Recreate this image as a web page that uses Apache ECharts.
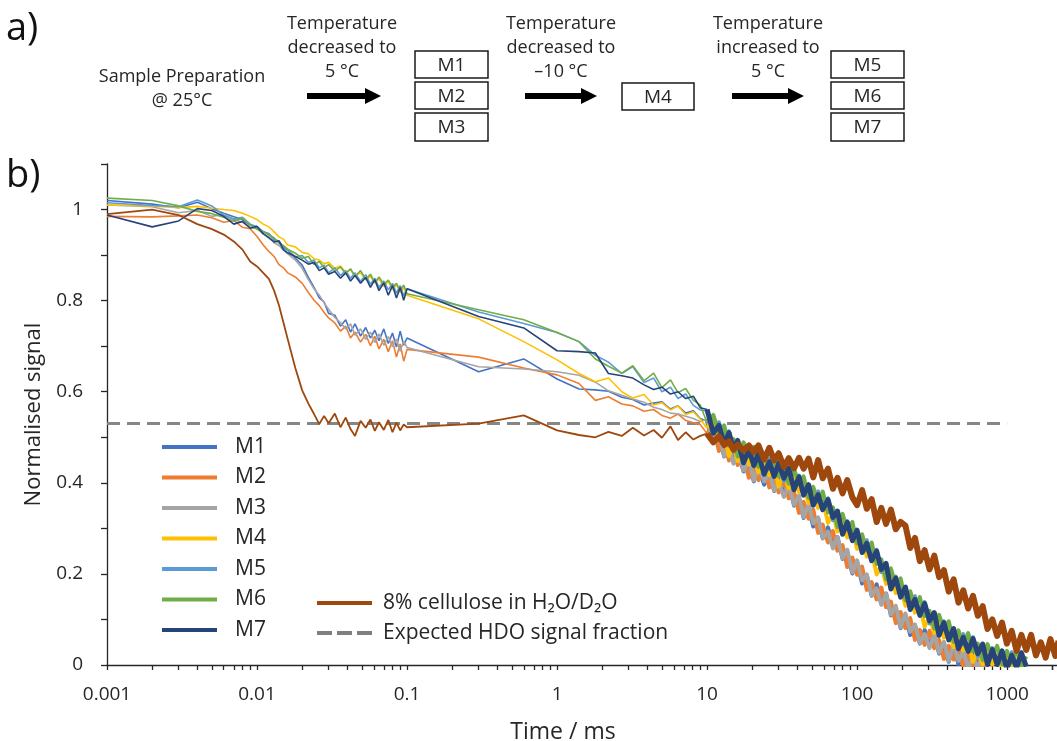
<!DOCTYPE html>
<html>
<head>
<meta charset="utf-8">
<script src="https://cdn.jsdelivr.net/npm/echarts@6/dist/echarts.min.js"></script>
<style>
  html, body { margin: 0; padding: 0; background: #fff; }
  #chart { width: 1057px; height: 741px; }
</style>
</head>
<body>
<div id="chart"></div>
<script>
// sampling times in ms (fast part, sparse middle, long tail)
const timeEarly = [0.001, 0.002, 0.003, 0.004, 0.005, 0.006, 0.007, 0.008, 0.009, 0.010,
  0.011, 0.012, 0.013, 0.014, 0.015, 0.016, 0.018, 0.020, 0.022, 0.024,
  0.026, 0.028, 0.030, 0.033, 0.036, 0.039, 0.042, 0.045, 0.049, 0.053,
  0.057, 0.061, 0.065, 0.070, 0.075, 0.080, 0.085, 0.090, 0.095, 0.100]
const timeMid = [0.3, 0.6, 1.0, 1.4, 1.8, 2.2, 2.7, 3.2, 3.8, 4.4, 5.0, 5.7, 6.4, 7.2, 8.1, 9.0]
const timeLate = [10, 11, 12, 13, 14, 15, 16, 17.5, 19, 20.5,
  22, 24, 26, 28, 30, 32.5, 35, 38, 41, 44,
  47.5, 51, 55, 59, 64, 69, 74, 80, 86, 93,
  100, 108, 116, 125, 135, 145, 156, 168, 181, 195,
  210, 226, 243, 262, 282, 304, 327, 352, 379, 408,
  440, 474, 510, 550, 592, 638, 687, 740, 797, 858,
  925, 996, 1073, 1156, 1245, 1341, 1445, 1556, 1676, 1805,
  1945, 2095, 2200]
const timeMs = timeEarly.concat(timeMid, timeLate)

// normalised signal, one value per time point
const m1 = [1.020, 1.012, 1.004, 1.016, 1.002, 0.992, 0.984, 0.978, 0.966, 0.962,
  0.951, 0.947, 0.934, 0.931, 0.918, 0.912, 0.893, 0.878, 0.851, 0.829,
  0.806, 0.797, 0.772, 0.768, 0.744, 0.758, 0.731, 0.749, 0.722, 0.741,
  0.718, 0.735, 0.712, 0.738, 0.706, 0.729, 0.698, 0.733, 0.702, 0.718,
  0.644, 0.672, 0.628, 0.606, 0.604, 0.601, 0.588, 0.583, 0.571, 0.575, 0.578, 0.562, 0.569, 0.553, 0.558, 0.541,
  0.535, 0.487, 0.502, 0.458, 0.482, 0.448, 0.469, 0.425, 0.440, 0.403,
  0.433, 0.396, 0.422, 0.382, 0.412, 0.375, 0.396, 0.350, 0.363, 0.323,
  0.348, 0.304, 0.322, 0.278, 0.302, 0.262, 0.281, 0.233, 0.244, 0.201,
  0.225, 0.179, 0.197, 0.152, 0.177, 0.138, 0.157, 0.109, 0.121, 0.081,
  0.108, 0.066, 0.087, 0.047, 0.077, 0.043, 0.067, 0.025, 0.042, 0.007,
  0.039, 0.002, 0.028, -0.007, 0.027, 0.000, 0.022, -0.010]
const m2 = [0.985, 0.984, 0.986, 0.988, 0.982, 0.972, 0.976, 0.961, 0.958, 0.941,
  0.922, 0.908, 0.897, 0.879, 0.872, 0.861, 0.852, 0.838, 0.818, 0.801,
  0.789, 0.774, 0.762, 0.751, 0.733, 0.744, 0.718, 0.731, 0.709, 0.726,
  0.701, 0.722, 0.694, 0.715, 0.688, 0.712, 0.676, 0.705, 0.667, 0.693,
  0.676, 0.652, 0.637, 0.618, 0.581, 0.589, 0.573, 0.569, 0.557, 0.561, 0.548, 0.542, 0.551, 0.537, 0.532, 0.528,
  0.508, 0.524, 0.470, 0.488, 0.449, 0.480, 0.439, 0.455, 0.411, 0.438,
  0.406, 0.433, 0.390, 0.412, 0.379, 0.407, 0.366, 0.380, 0.334, 0.358,
  0.321, 0.341, 0.290, 0.308, 0.269, 0.294, 0.251, 0.263, 0.215, 0.236,
  0.198, 0.216, 0.165, 0.182, 0.144, 0.170, 0.127, 0.139, 0.092, 0.116,
  0.081, 0.103, 0.055, 0.077, 0.044, 0.075, 0.037, 0.055, 0.013, 0.042,
  0.012, 0.039, -0.004, 0.023, -0.006, 0.030, -0.003, 0.019]
const m3 = [1.010, 1.006, 0.993, 0.998, 0.985, 0.990, 0.978, 0.972, 0.961, 0.958,
  0.946, 0.940, 0.927, 0.921, 0.911, 0.903, 0.889, 0.871, 0.846, 0.826,
  0.812, 0.795, 0.781, 0.763, 0.752, 0.738, 0.749, 0.724, 0.738, 0.715,
  0.731, 0.708, 0.727, 0.702, 0.721, 0.699, 0.716, 0.689, 0.711, 0.697,
  0.655, 0.650, 0.644, 0.636, 0.621, 0.602, 0.592, 0.584, 0.577, 0.566, 0.561, 0.553, 0.551, 0.546, 0.541, 0.534,
  0.540, 0.494, 0.504, 0.459, 0.473, 0.442, 0.469, 0.427, 0.449, 0.405,
  0.438, 0.403, 0.424, 0.383, 0.403, 0.369, 0.396, 0.352, 0.372, 0.325,
  0.353, 0.311, 0.324, 0.279, 0.293, 0.256, 0.281, 0.235, 0.253, 0.203,
  0.230, 0.186, 0.199, 0.153, 0.168, 0.132, 0.157, 0.111, 0.130, 0.083,
  0.113, 0.073, 0.089, 0.048, 0.068, 0.037, 0.067, 0.027, 0.051, 0.009,
  0.044, 0.009, 0.030, -0.006, 0.018, -0.008, 0.027, -0.009]
const m4 = [1.010, 1.008, 1.004, 1.007, 1.003, 1.000, 0.998, 0.992, 0.985, 0.978,
  0.968, 0.962, 0.951, 0.940, 0.935, 0.922, 0.918, 0.906, 0.903, 0.892,
  0.889, 0.881, 0.884, 0.871, 0.876, 0.862, 0.868, 0.855, 0.861, 0.846,
  0.853, 0.839, 0.848, 0.831, 0.842, 0.824, 0.835, 0.818, 0.829, 0.812,
  0.760, 0.710, 0.670, 0.640, 0.622, 0.630, 0.600, 0.586, 0.594, 0.571, 0.576, 0.560, 0.569, 0.550, 0.556, 0.540,
  0.520, 0.540, 0.497, 0.506, 0.459, 0.483, 0.448, 0.479, 0.440, 0.459,
  0.423, 0.450, 0.417, 0.434, 0.392, 0.419, 0.388, 0.420, 0.380, 0.394,
  0.355, 0.382, 0.345, 0.361, 0.312, 0.333, 0.293, 0.322, 0.280, 0.294,
  0.255, 0.278, 0.238, 0.249, 0.199, 0.219, 0.178, 0.202, 0.158, 0.170,
  0.130, 0.153, 0.115, 0.129, 0.084, 0.106, 0.070, 0.100, 0.060, 0.076,
  0.039, 0.067, 0.032, 0.050, 0.007, 0.034, 0.001, 0.036, 0.001, 0.022,
  -0.010, 0.022, -0.008, 0.014, -0.025, 0.006]
const m5 = [1.015, 1.009, 1.006, 1.021, 1.008, 0.987, 0.979, 0.983, 0.968, 0.962,
  0.951, 0.947, 0.933, 0.928, 0.915, 0.911, 0.896, 0.899, 0.884, 0.889,
  0.872, 0.878, 0.861, 0.872, 0.855, 0.866, 0.849, 0.861, 0.842, 0.857,
  0.836, 0.849, 0.829, 0.843, 0.824, 0.838, 0.816, 0.833, 0.811, 0.826,
  0.775, 0.750, 0.730, 0.710, 0.680, 0.665, 0.640, 0.655, 0.620, 0.630, 0.600, 0.610, 0.585, 0.595, 0.570, 0.560,
  0.557, 0.510, 0.533, 0.491, 0.513, 0.468, 0.482, 0.448, 0.476, 0.444,
  0.460, 0.420, 0.453, 0.419, 0.446, 0.404, 0.422, 0.389, 0.416, 0.379,
  0.392, 0.352, 0.381, 0.346, 0.366, 0.318, 0.327, 0.291, 0.316, 0.279,
  0.292, 0.248, 0.274, 0.234, 0.253, 0.204, 0.212, 0.171, 0.194, 0.155,
  0.167, 0.123, 0.151, 0.114, 0.138, 0.091, 0.104, 0.069, 0.096, 0.061,
  0.076, 0.037, 0.068, 0.035, 0.061, 0.019, 0.035, 0.005, 0.037, 0.007,
  0.027, -0.008, 0.028, -0.001, 0.029, -0.009]
const m6 = [1.025, 1.020, 1.008, 0.996, 0.991, 0.983, 0.975, 0.981, 0.966, 0.957,
  0.952, 0.944, 0.938, 0.926, 0.921, 0.913, 0.904, 0.893, 0.897, 0.879,
  0.886, 0.872, 0.879, 0.865, 0.874, 0.859, 0.870, 0.853, 0.866, 0.847,
  0.858, 0.840, 0.852, 0.836, 0.845, 0.829, 0.838, 0.823, 0.834, 0.815,
  0.780, 0.758, 0.730, 0.710, 0.672, 0.656, 0.641, 0.657, 0.624, 0.641, 0.609, 0.626, 0.598, 0.607, 0.581, 0.571,
  0.532, 0.549, 0.510, 0.526, 0.482, 0.496, 0.458, 0.489, 0.458, 0.479,
  0.435, 0.459, 0.430, 0.454, 0.415, 0.432, 0.398, 0.430, 0.398, 0.414,
  0.367, 0.391, 0.358, 0.381, 0.335, 0.346, 0.303, 0.332, 0.298, 0.314,
  0.267, 0.287, 0.251, 0.269, 0.222, 0.232, 0.188, 0.212, 0.176, 0.190,
  0.142, 0.162, 0.128, 0.149, 0.107, 0.119, 0.080, 0.110, 0.078, 0.096,
  0.051, 0.076, 0.045, 0.070, 0.030, 0.047, 0.011, 0.046, 0.019, 0.042,
  0.002, 0.031, 0.005, 0.034, -0.002, 0.019]
const m7 = [0.988, 0.962, 0.975, 1.002, 0.998, 0.985, 0.968, 0.974, 0.959, 0.963,
  0.947, 0.938, 0.929, 0.931, 0.912, 0.905, 0.897, 0.889, 0.880, 0.884,
  0.866, 0.872, 0.858, 0.864, 0.849, 0.861, 0.843, 0.855, 0.838, 0.851,
  0.829, 0.846, 0.822, 0.839, 0.812, 0.833, 0.806, 0.829, 0.801, 0.826,
  0.765, 0.740, 0.690, 0.688, 0.685, 0.640, 0.635, 0.630, 0.615, 0.605, 0.610, 0.595, 0.600, 0.585, 0.590, 0.565,
  0.561, 0.509, 0.526, 0.486, 0.510, 0.474, 0.493, 0.444, 0.473, 0.438,
  0.464, 0.419, 0.446, 0.414, 0.443, 0.410, 0.433, 0.385, 0.413, 0.373,
  0.396, 0.351, 0.374, 0.341, 0.363, 0.324, 0.338, 0.287, 0.313, 0.273,
  0.296, 0.247, 0.267, 0.229, 0.250, 0.210, 0.223, 0.167, 0.191, 0.149,
  0.171, 0.122, 0.144, 0.109, 0.135, 0.097, 0.115, 0.065, 0.093, 0.055,
  0.080, 0.036, 0.061, 0.030, 0.058, 0.025, 0.046, 0.001, 0.034, 0.001,
  0.031, -0.009, 0.021, -0.006, 0.026, -0.003]
const cellulose = [0.990, 1.000, 0.988, 0.968, 0.957, 0.945, 0.930, 0.912, 0.886, 0.875,
  0.861, 0.848, 0.822, 0.790, 0.752, 0.716, 0.652, 0.603, 0.574, 0.551,
  0.529, 0.547, 0.531, 0.552, 0.522, 0.543, 0.518, 0.503, 0.536, 0.521,
  0.539, 0.514, 0.533, 0.516, 0.538, 0.511, 0.532, 0.515, 0.528, 0.522,
  0.530, 0.548, 0.515, 0.505, 0.500, 0.512, 0.503, 0.521, 0.504, 0.516, 0.499, 0.524, 0.494, 0.511, 0.495, 0.503,
  0.508, 0.489, 0.502, 0.483, 0.491, 0.473, 0.484, 0.471, 0.482, 0.467,
  0.482, 0.451, 0.477, 0.449, 0.465, 0.435, 0.454, 0.432, 0.455, 0.431,
  0.453, 0.412, 0.450, 0.410, 0.431, 0.387, 0.411, 0.377, 0.406, 0.368,
  0.351, 0.384, 0.343, 0.364, 0.314, 0.345, 0.310, 0.341, 0.298, 0.314,
  0.306, 0.257, 0.279, 0.228, 0.252, 0.210, 0.240, 0.193, 0.208, 0.161,
  0.188, 0.137, 0.164, 0.124, 0.152, 0.108, 0.129, 0.079, 0.100, 0.064,
  0.093, 0.047, 0.075, 0.031, 0.066, 0.033, 0.066, 0.021, 0.050, 0.016,
  0.057, 0.020, 0.053]

const hdoTime = [0.001, 1000]
const hdoLevel = [0.53, 0.53]

const mNames = ['M1', 'M2', 'M3', 'M4', 'M5', 'M6', 'M7']
const mData = [m1, m2, m3, m4, m5, m6, m7]
const mColors = ['#4472C4', '#ED7D31', '#A5A5A5', '#FFC000', '#5B9BD5', '#70AD47', '#264478']
const cellName = '8% cellulose in H₂O/D₂O'
const cellColor = '#9E480E'
const hdoName = 'Expected HDO signal fraction'

const xLabelValues = [0.001, 0.01, 0.1, 1, 10, 100, 1000]
const yLabelValues = [0, 0.2, 0.4, 0.6, 0.8, 1]
const yTickValues = [0, 0.1, 0.2, 0.3, 0.4, 0.5, 0.6, 0.7, 0.8, 0.9, 1, 1.1]

// minor ticks 2..9 in each decade, plus 2000
const xTickValues = []
xLabelValues.forEach(d => {
  for (let k = 1; k <= 9; k++) xTickValues.push(+(d * k).toPrecision(3))
})
xTickValues.push(2000)

const toPoints = vals => vals.map((v, i) => [timeMs[i], v])
// the dense tail (from 10 ms on) is drawn thicker, as the raw data there is a solid band
const tailStart = timeEarly.length + timeMid.length

const font = '"Open Sans", sans-serif'
const ink = '#262626'

// panel a) flow diagram
const boxStyle = { fill: '#fff', stroke: '#1a1a1a', lineWidth: 1.5 }
const box = (x, y, w, h, label) => [
  { type: 'rect', shape: { x: x, y: y, width: w, height: h }, style: boxStyle },
  { type: 'text', x: x + w / 2, y: y + h / 2 + 1, style: { text: label, fontSize: 19, fontFamily: font, fill: ink, textAlign: 'center', textVerticalAlign: 'middle' } }
]
const arrow = (x0, x1, y) => ({
  type: 'polygon',
  shape: { points: [[x0, y - 3], [x1 - 16, y - 3], [x1 - 16, y - 8], [x1, y], [x1 - 16, y + 8], [x1 - 16, y + 3], [x0, y + 3]] },
  style: { fill: '#000' }
})
const label = (x, y, text) => ({
  type: 'text', x: x, y: y,
  style: { text: text, fontSize: 18, fontFamily: font, fill: ink, textAlign: 'center', textVerticalAlign: 'middle', lineHeight: 24 }
})

const graphics = [
  { type: 'text', x: 6, y: 29, style: { text: 'a)', fontSize: 38, fontFamily: font, fill: '#111', textVerticalAlign: 'middle' } },
  { type: 'text', x: 6, y: 176, style: { text: 'b)', fontSize: 38, fontFamily: font, fill: '#111', textVerticalAlign: 'middle' } },
  label(182, 89, 'Sample Preparation\n@ 25°C'),
  label(342, 48, 'Temperature\ndecreased to\n5 °C'),
  label(561, 48, 'Temperature\ndecreased to\n–10 °C'),
  label(768, 48, 'Temperature\nincreased to\n5 °C'),
  arrow(307, 381, 96),
  arrow(525, 597, 96),
  arrow(732, 804, 96)
].concat(
  box(415, 51, 73, 27, 'M1'), box(415, 82, 73, 27, 'M2'), box(415, 113, 73, 28, 'M3'),
  box(622, 83, 72, 27, 'M4'),
  box(831, 51, 73, 27, 'M5'), box(831, 82, 73, 27, 'M6'), box(831, 113, 73, 28, 'M7')
)

const series = [{
  name: hdoName,
  type: 'line',
  data: hdoTime.map((t, i) => [t, hdoLevel[i]]),
  symbol: 'none',
  color: '#7F7F7F',
  lineStyle: { color: '#868686', width: 3, type: [13, 7] },
  z: 1
}]
const addCurve = (name, vals, color, thin, thick, z) => {
  const pts = toPoints(vals)
  series.push({
    name: name, type: 'line', data: pts.slice(0, tailStart + 1), symbol: 'none',
    color: color, lineStyle: { color: color, width: thin }, z: z
  })
  series.push({
    name: name, type: 'line', data: pts.slice(tailStart), symbol: 'none',
    color: color, lineStyle: { color: color, width: thick, join: 'round' }, z: z
  })
}
mNames.forEach((name, i) => addCurve(name, mData[i], mColors[i], 1.6, i === 6 ? 5 : 4, 2))
addCurve(cellName, cellulose, cellColor, 1.8, 6, 3)

const chart = echarts.init(document.getElementById('chart'))
chart.setOption({
  animation: false,
  backgroundColor: '#fff',
  textStyle: { fontFamily: font },
  graphic: graphics,
  grid: { left: 107, right: 0, top: 164, bottom: 76, outerBoundsMode: 'none' },
  legend: [{
    orient: 'vertical',
    left: 162,
    top: 436,
    padding: 0,
    itemWidth: 55,
    itemHeight: 4,
    itemGap: 8.5,
    icon: 'rect',
    selectedMode: false,
    itemStyle: { borderWidth: 0 },
    data: mNames,
    textStyle: { fontSize: 21, fontFamily: font, color: ink, lineHeight: 22, padding: [0, 0, 0, 13] }
  }, {
    orient: 'vertical',
    left: 317,
    top: 592,
    padding: 0,
    itemWidth: 55,
    itemHeight: 4,
    itemGap: 8,
    selectedMode: false,
    itemStyle: { borderWidth: 0 },
    data: [
      { name: cellName, icon: 'rect' },
      { name: hdoName, icon: 'path://M0,0H15V4H0ZM20,0H35V4H20ZM40,0H55V4H40Z' }
    ],
    textStyle: { fontSize: 21, fontFamily: font, color: ink, lineHeight: 22, padding: [0, 0, 0, 6] }
  }],
  xAxis: {
    type: 'log',
    logBase: 10,
    min: 0.001,
    max: 2150,
    name: 'Time / ms',
    nameLocation: 'middle',
    nameGap: 56,
    nameTextStyle: { fontSize: 23, fontFamily: font, color: ink, padding: [0, 38, 0, 0] },
    axisLine: { show: true, onZero: false, lineStyle: { color: ink, width: 1.3 } },
    axisTick: { show: true, length: 5, customValues: xTickValues, lineStyle: { color: ink, width: 1.3 } },
    axisLabel: {
      customValues: xLabelValues,
      fontSize: 19, fontFamily: font, color: ink, margin: 20,
      formatter: v => String(+(+v).toPrecision(4))
    },
    splitLine: { show: false },
    minorSplitLine: { show: false }
  },
  yAxis: {
    type: 'value',
    min: 0,
    max: 1.1,
    name: 'Normalised signal',
    nameLocation: 'middle',
    nameGap: 62,
    nameTextStyle: { fontSize: 22, fontFamily: font, color: ink },
    axisLine: { show: true, lineStyle: { color: ink, width: 1.3 } },
    axisTick: { show: true, length: 6, customValues: yTickValues, lineStyle: { color: ink, width: 1.3 } },
    axisLabel: { customValues: yLabelValues, fontSize: 19, fontFamily: font, color: ink, margin: 24 },
    splitLine: { show: false }
  },
  series: series
})
</script>
</body>
</html>
